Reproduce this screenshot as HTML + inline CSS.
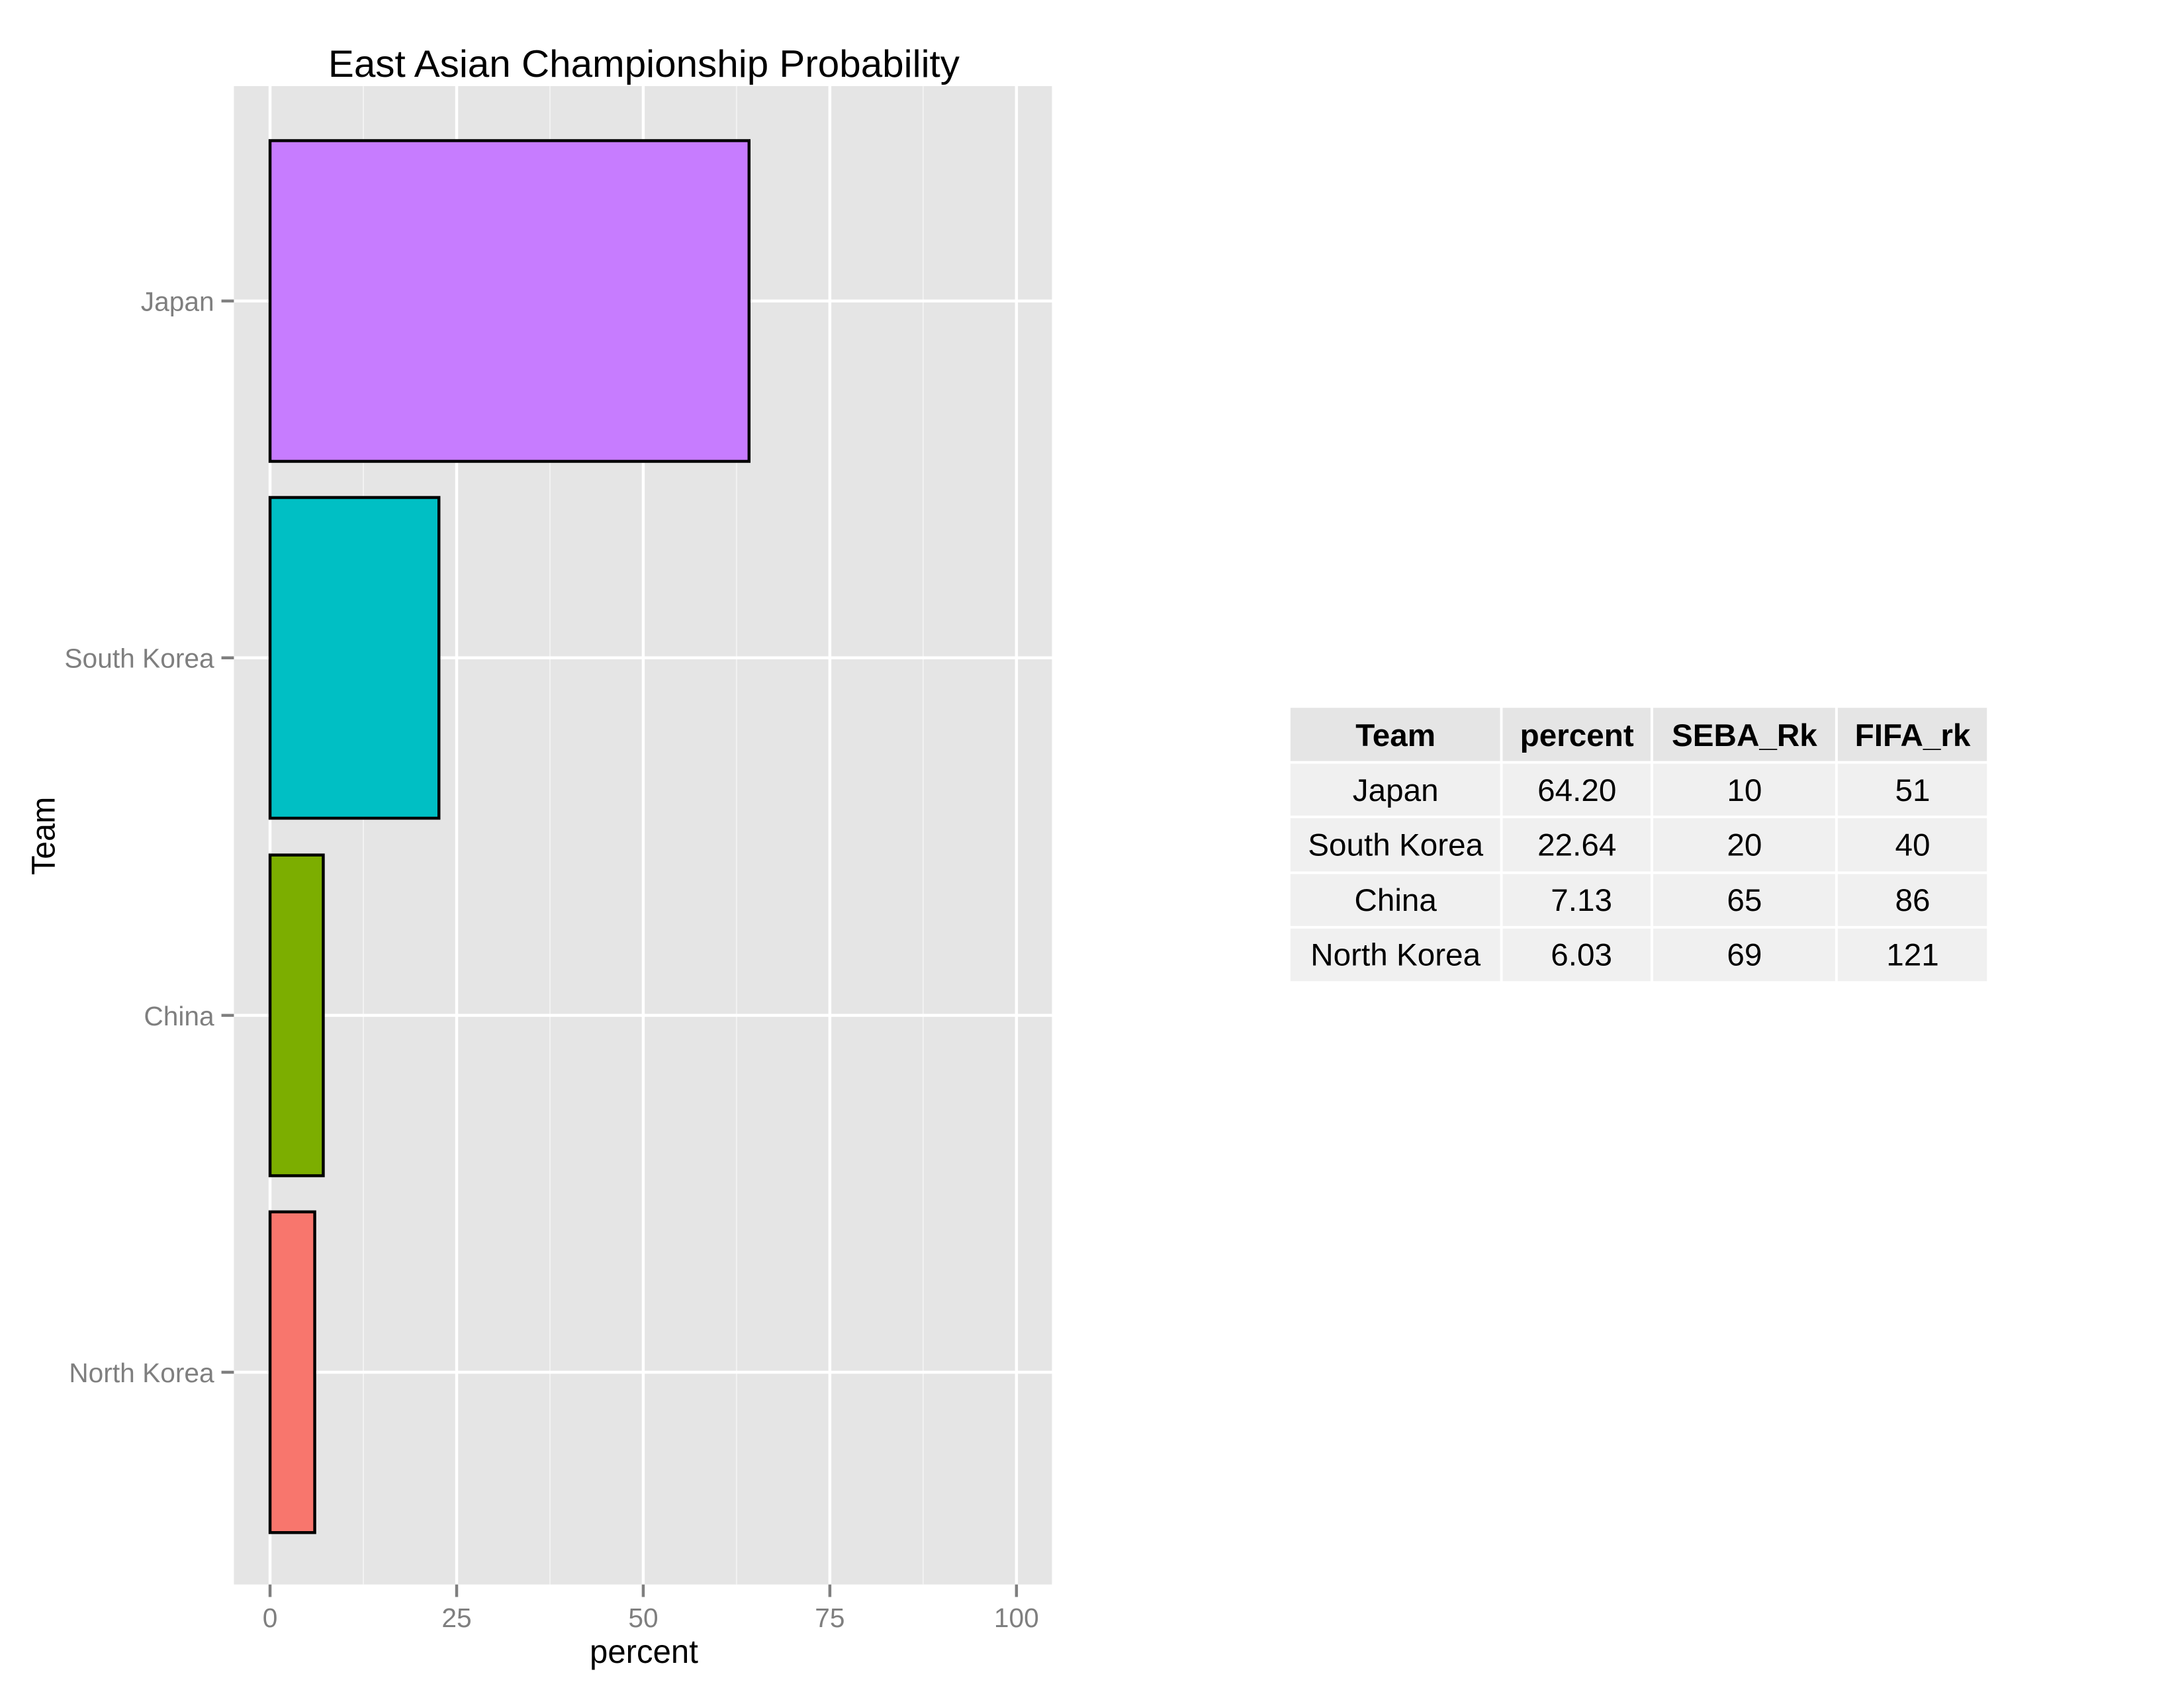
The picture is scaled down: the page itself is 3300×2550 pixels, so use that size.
<!DOCTYPE html>
<html><head><meta charset="utf-8"><style>
html,body{margin:0;padding:0;background:#fff;}
svg{display:block;font-family:"Liberation Sans",Arial,sans-serif;}
</style></head><body>
<svg width="3300" height="2550" viewBox="0 0 3300 2550" xmlns="http://www.w3.org/2000/svg">
<rect width="3300" height="2550" fill="#fff"/>
<g transform="scale(0.9928)">
<rect x="356" y="131" width="1245" height="2280" fill="#E5E5E5"/>
<g stroke="#F2F2F2" stroke-width="2">
<line x1="553" y1="131" x2="553" y2="2411"/>
<line x1="837" y1="131" x2="837" y2="2411"/>
<line x1="1121" y1="131" x2="1121" y2="2411"/>
<line x1="1405" y1="131" x2="1405" y2="2411"/>
</g>
<g stroke="#fff" stroke-width="4.5">
<line x1="411" y1="131" x2="411" y2="2411"/>
<line x1="695" y1="131" x2="695" y2="2411"/>
<line x1="979" y1="131" x2="979" y2="2411"/>
<line x1="1263" y1="131" x2="1263" y2="2411"/>
<line x1="1547" y1="131" x2="1547" y2="2411"/>
<line x1="356" y1="458" x2="1601" y2="458"/>
<line x1="356" y1="1001" x2="1601" y2="1001"/>
<line x1="356" y1="1545" x2="1601" y2="1545"/>
<line x1="356" y1="2088" x2="1601" y2="2088"/>
</g>
<g stroke="#000" stroke-width="4.5">
<rect x="411" y="214" width="729" height="488" fill="#C77CFF"/>
<rect x="411" y="757" width="257" height="488" fill="#00BFC4"/>
<rect x="411" y="1301" width="81" height="488" fill="#7CAE00"/>
<rect x="411" y="1844" width="68" height="488" fill="#F8766D"/>
</g>
<g stroke="#7F7F7F" stroke-width="4.5">
<line x1="337" y1="458" x2="356" y2="458"/>
<line x1="337" y1="1001" x2="356" y2="1001"/>
<line x1="337" y1="1545" x2="356" y2="1545"/>
<line x1="337" y1="2088" x2="356" y2="2088"/>
<line x1="411" y1="2411" x2="411" y2="2430"/>
<line x1="695" y1="2411" x2="695" y2="2430"/>
<line x1="979" y1="2411" x2="979" y2="2430"/>
<line x1="1263" y1="2411" x2="1263" y2="2430"/>
<line x1="1547" y1="2411" x2="1547" y2="2430"/>
</g>
<g fill="#7F7F7F" font-size="41" text-anchor="end">
<text x="326" y="473">Japan</text>
<text x="326" y="1016">South Korea</text>
<text x="326" y="1560">China</text>
<text x="326" y="2103">North Korea</text>
</g>
<g fill="#7F7F7F" font-size="41" text-anchor="middle">
<text x="411" y="2476">0</text>
<text x="695" y="2476">25</text>
<text x="979" y="2476">50</text>
<text x="1263" y="2476">75</text>
<text x="1547" y="2476">100</text>
</g>
<text x="980" y="2530" font-size="50" text-anchor="middle" textLength="165" lengthAdjust="spacingAndGlyphs">percent</text>
<text x="0" y="0" font-size="50" text-anchor="middle" transform="translate(83,1272) rotate(-90)" textLength="119" lengthAdjust="spacingAndGlyphs">Team</text>
<text x="980" y="117" font-size="58" text-anchor="middle" textLength="961" lengthAdjust="spacingAndGlyphs">East Asian Championship Probability</text>
<g fill="#E5E5E5">
<rect x="1964" y="1077" width="319" height="81"/>
<rect x="2287" y="1077" width="225" height="81"/>
<rect x="2516" y="1077" width="277" height="81"/>
<rect x="2797" y="1077" width="227" height="81"/>
</g>
<g fill="#F0F0F0">
<rect x="1964" y="1162" width="319" height="79"/><rect x="2287" y="1162" width="225" height="79"/><rect x="2516" y="1162" width="277" height="79"/><rect x="2797" y="1162" width="227" height="79"/>
<rect x="1964" y="1245" width="319" height="81"/><rect x="2287" y="1245" width="225" height="81"/><rect x="2516" y="1245" width="277" height="81"/><rect x="2797" y="1245" width="227" height="81"/>
<rect x="1964" y="1330" width="319" height="79"/><rect x="2287" y="1330" width="225" height="79"/><rect x="2516" y="1330" width="277" height="79"/><rect x="2797" y="1330" width="227" height="79"/>
<rect x="1964" y="1413" width="319" height="80"/><rect x="2287" y="1413" width="225" height="80"/><rect x="2516" y="1413" width="277" height="80"/><rect x="2797" y="1413" width="227" height="80"/>
</g>
<g font-size="48" text-anchor="middle" fill="#000">
<g font-weight="bold">
<text x="2124" y="1135">Team</text>
<text x="2400" y="1135">percent</text>
<text x="2655" y="1135">SEBA_Rk</text>
<text x="2911" y="1135">FIFA_rk</text>
</g>
<text x="2124" y="1219">Japan</text><text x="2400" y="1219">64.20</text><text x="2655" y="1219">10</text><text x="2911" y="1219">51</text>
<text x="2124" y="1302">South Korea</text><text x="2400" y="1302">22.64</text><text x="2655" y="1302">20</text><text x="2911" y="1302">40</text>
<text x="2124" y="1386">China</text><text x="2407" y="1386">7.13</text><text x="2655" y="1386">65</text><text x="2911" y="1386">86</text>
<text x="2124" y="1469">North Korea</text><text x="2407" y="1469">6.03</text><text x="2655" y="1469">69</text><text x="2911" y="1469">121</text>
</g>
</g>
</svg>
</body></html>
